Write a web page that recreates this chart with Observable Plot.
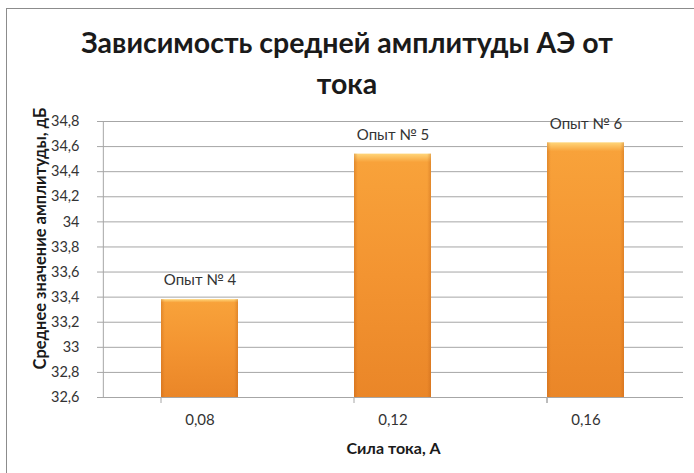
<!DOCTYPE html>
<html><head><meta charset="utf-8">
<script src="https://cdn.jsdelivr.net/npm/d3@7"></script>
<script src="https://cdn.jsdelivr.net/npm/@observablehq/plot@0.6"></script>
<style>
html,body{margin:0;padding:0;background:#fff;overflow:hidden;width:694px;height:473px;}
#frame{position:absolute;left:6px;top:8px;width:760px;height:560px;border:1px solid #8c8c8c;}
#title{position:absolute;left:0;top:22px;width:694px;text-align:center;font-family:Lato,"Open Sans",sans-serif;font-weight:bold;font-size:28.5px;line-height:41px;color:#1a1a1a;}
#chart{position:absolute;left:0;top:0;}
</style></head>
<body>
<div id="frame"></div>
<div id="title">Зависимость средней амплитуды АЭ от<br>тока</div>
<div id="chart"></div>
<script>
const categories = ["0,08", "0,12", "0,16"];
const values = [33.38, 34.54, 34.63];
const labels = ["Опыт № 4", "Опыт № 5", "Опыт № 6"];
const yTicks = [32.6, 32.8, 33, 33.2, 33.4, 33.6, 33.8, 34, 34.2, 34.4, 34.6, 34.8];

const data = categories.map((c, i) => ({cat: c, value: values[i], label: labels[i]}));
const fmt = d => String(+d.toFixed(1)).replace(".", ",");
const font = "Lato, 'Open Sans', sans-serif";
const W = 694, H = 473, mL = 103, mR = 11, mT = 121, mB = 76;
const step = (W - mL - mR) / categories.length;
const boundaries = categories.map(c => ({cat: c, dx: -step / 2})).concat([{cat: categories[categories.length - 1], dx: step / 2}]);

const defs = () => {
  const ns = "http://www.w3.org/2000/svg";
  const d = document.createElementNS(ns, "defs");
  d.innerHTML = `<linearGradient id="barGrad" x1="0" y1="0" x2="0" y2="1">
    <stop offset="0" stop-color="#ffd67a"/>
    <stop offset="0.035" stop-color="#f8a23a"/>
    <stop offset="0.5" stop-color="#f39431"/>
    <stop offset="1" stop-color="#ea8628"/>
  </linearGradient>
  <linearGradient id="barGradH" x1="0" y1="0" x2="1" y2="0">
    <stop offset="0" stop-color="#b85a12" stop-opacity="0.35"/>
    <stop offset="0.05" stop-color="#b85a12" stop-opacity="0"/>
    <stop offset="0.95" stop-color="#b85a12" stop-opacity="0"/>
    <stop offset="1" stop-color="#b85a12" stop-opacity="0.35"/>
  </linearGradient>`;
  return d;
};

const chart = Plot.plot({
  width: W, height: H,
  marginLeft: mL, marginRight: mR, marginTop: mT, marginBottom: mB,
  style: {fontFamily: font, fontSize: "14px", color: "#333", background: "transparent"},
  x: {domain: categories, paddingInner: 0.6, paddingOuter: 0.3, label: null},
  y: {domain: [32.6, 34.8], label: null},
  marks: [
    defs,
    Plot.ruleY(yTicks, {stroke: "#a6a6a6", strokeWidth: 1}),
    Plot.barY(data, {x: "cat", y1: 32.6, y2: "value", fill: "url(#barGrad)"}),
    Plot.barY(data, {x: "cat", y1: 32.6, y2: "value", fill: "url(#barGradH)"}),
    Plot.ruleX(boundaries, {x: "cat", dx: d => d.dx, insetTop: H - mT - mB, insetBottom: -6, stroke: "#a6a6a6"}),
    Plot.ruleX([categories[0]], {dx: -step / 2, stroke: "#a6a6a6"}),
    Plot.text(data, {x: "cat", y: "value", text: "label", dy: -19, fontSize: 15, fill: "#333"}),
    Plot.axisY({ticks: yTicks, tickFormat: fmt, tickSize: 6, tickPadding: 18, stroke: "#a6a6a6", fill: "#333", fontSize: 14.5, label: null}),
    Plot.axisX({tickSize: 0, tickPadding: 17, fill: "#333", fontSize: 15, label: null}),
    Plot.text(["Среднее значение амплитуды, дБ"], {frameAnchor: "left", textAnchor: "middle", dx: -63, dy: -21, rotate: -90, fontWeight: "bold", fontSize: 16.5, fill: "#1a1a1a"}),
    Plot.text(["Сила тока, А"], {frameAnchor: "bottom", dy: 56, fontWeight: "bold", fontSize: 16, fill: "#1a1a1a"})
  ]
});
document.getElementById("chart").appendChild(chart);
</script>
</body></html>
